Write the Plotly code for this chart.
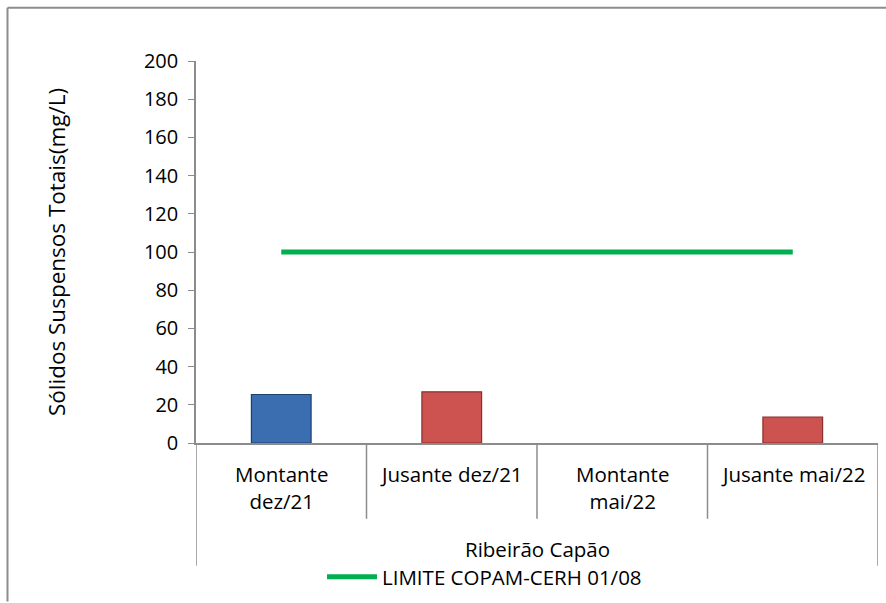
import plotly.graph_objects as go

categories = ["Montante dez/21", "Jusante dez/21", "Montante mai/22", "Jusante mai/22"]
cat_labels = ["Montante<br>dez/21", "Jusante dez/21", "Montante<br>mai/22", "Jusante mai/22"]
group_label = "Ribeirão Capão"
sst_values = [25.4, 26.8, None, 13.6]
bar_colors = ["#3b6db1", "#cd5351", "#cd5351", "#cd5351"]
bar_edges = ["#1f3f6e", "#8a2f2d", "#8a2f2d", "#8a2f2d"]
limit_values = [100, 100, 100, 100]
limit_name = "LIMITE COPAM-CERH 01/08"
y_title = "Sólidos Suspensos Totais(mg/L)"
y_ticks = [0, 20, 40, 60, 80, 100, 120, 140, 160, 180, 200]

FONT = "'Open Sans', sans-serif"
W, H = 886, 603
L, R, T, B = 196, 8, 61, 159
pw = W - L - R
ph = H - T - B

def px_x(x):
    return (x - L) / pw

def px_y(y):
    return (H - B - y) / ph

fig = go.Figure()
fig.add_trace(go.Bar(
    x=categories, y=sst_values, width=0.35,
    marker=dict(color=bar_colors, line=dict(color=bar_edges, width=1.2)),
    showlegend=False, hoverinfo="y"))
fig.add_trace(go.Scatter(
    x=categories, y=limit_values, mode="lines", name=limit_name,
    line=dict(color="#00b050", width=5)))

shapes = []
for i in range(1, len(categories)):
    shapes.append(dict(type="line", xref="x", yref="paper", x0=i - 0.5, x1=i - 0.5,
                       y0=0, y1=px_y(520), line=dict(color="#8c8c8c", width=1.5)))
for xv in [-0.5, len(categories) - 0.5]:
    shapes.append(dict(type="line", xref="x", yref="paper", x0=xv, x1=xv,
                       y0=0, y1=px_y(567), line=dict(color="#8c8c8c", width=1.5)))
shapes.append(dict(type="line", xref="paper", yref="paper", x0=px_x(7.5), x1=px_x(7.5),
                   y0=px_y(7.5), y1=px_y(603), line=dict(color="#8c8c8c", width=2)))
shapes.append(dict(type="line", xref="paper", yref="paper", x0=px_x(7.5), x1=px_x(886),
                   y0=px_y(7.5), y1=px_y(7.5), line=dict(color="#8c8c8c", width=2)))

annotations = []
for c, lab in zip(categories, cat_labels):
    annotations.append(dict(x=c, xref="x", y=px_y(459), yref="paper", text=lab,
                            showarrow=False, yanchor="top", xanchor="center",
                            font=dict(family=FONT, size=20.5, color="#000")))
annotations.append(dict(x=0.5, xref="paper", y=px_y(550), yref="paper", text=group_label,
                        showarrow=False, yanchor="middle", xanchor="center",
                        font=dict(family=FONT, size=20.5, color="#000")))

fig.update_layout(
    width=W, height=H,
    margin=dict(l=L, r=R, t=T, b=B),
    paper_bgcolor="white", plot_bgcolor="white",
    font=dict(family=FONT, size=20, color="#000"),
    showlegend=True,
    legend=dict(orientation="h", x=px_x(322), y=px_y(577), xanchor="left", yanchor="middle",
                font=dict(family=FONT, size=20.5, color="#000"), bgcolor="rgba(0,0,0,0)",
                itemwidth=50),
    shapes=shapes, annotations=annotations,
    xaxis=dict(showticklabels=False, showline=True, linecolor="#8c8c8c", linewidth=1.5,
               ticks="", showgrid=False, zeroline=False, range=[-0.5, 3.5]),
    yaxis=dict(range=[0, 200], tickvals=y_ticks, showline=True, linecolor="#8c8c8c",
               linewidth=1.5, ticks="outside", ticklen=6, tickcolor="#8c8c8c",
               ticklabelstandoff=6,
               showgrid=False, zeroline=False, tickfont=dict(family=FONT, size=20),
               title=dict(text=y_title, font=dict(family=FONT, size=22.5), standoff=72)),
    bargap=0.65,
)

fig.write_html("out.html")
